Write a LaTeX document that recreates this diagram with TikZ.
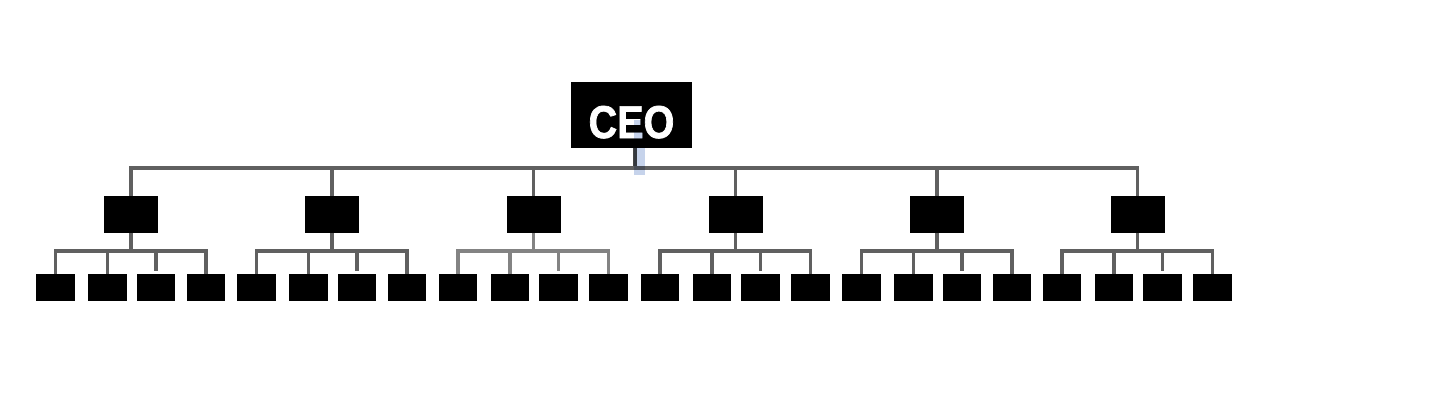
\documentclass[tikz,border=0pt]{standalone}
\usepackage{fontspec}
\newfontfamily\ceofont{Liberation Sans}[BoldFeatures={FakeStretch=0.86, FakeBold=1.5}]
\usetikzlibrary{calc}

\definecolor{linegray}{HTML}{606060}
\definecolor{lightgray}{HTML}{838383}
\definecolor{tapgray}{HTML}{454545}
\definecolor{selblue}{HTML}{C6D3EB}

\begin{document}
\begin{tikzpicture}[x=1pt, y=-1pt,
	box/.style={fill=black, inner sep=0pt},
	conn/.style={draw=linegray, line width=3.2pt}]
	\useasboundingbox (0,0) rectangle (1440,418);
	% top of the chart
	\node[box, minimum width=121pt, minimum height=66pt, text=white, text height=46pt, text depth=0pt,
		font=\ceofont\bfseries\fontsize{46}{50}\selectfont] (ceo) at (631.5,115) {CEO};
	\coordinate (tap) at (635,168);
	\draw[conn, draw=tapgray] (ceo.south -| tap) -- (tap);
	% six departments, four units under each
	\foreach \i/\x/\c in {1/131/linegray, 2/332/linegray, 3/533.5/lightgray, 4/735.5/linegray, 5/937/linegray, 6/1137.5/linegray} {
		\node[box, minimum width=54pt, minimum height=37pt] (m\i) at (\x,214.5) {};
		\coordinate (b\i) at (\x,251);
		\draw[conn] (m\i.north) |- (tap);
		\draw[conn, draw=\c] (m\i.south) -- (b\i);
		\foreach \j/\dx/\g in {1/-75.5/0, 2/-23.5/0, 3/25/3, 4/75/0} {
			\node[box, minimum width=38.5pt, minimum height=27pt] (l\i-\j) at ({\x+(\dx)},287.5) {};
			\draw[conn, draw=\c] ([yshift=\g pt]l\i-\j.north) |- (b\i);
		}
	}
	% selection mark over the CEO box
	\begin{scope}[blend mode=multiply]
		\fill[selblue] (634,120) rectangle (645,175);
	\end{scope}
\end{tikzpicture}
\end{document}
